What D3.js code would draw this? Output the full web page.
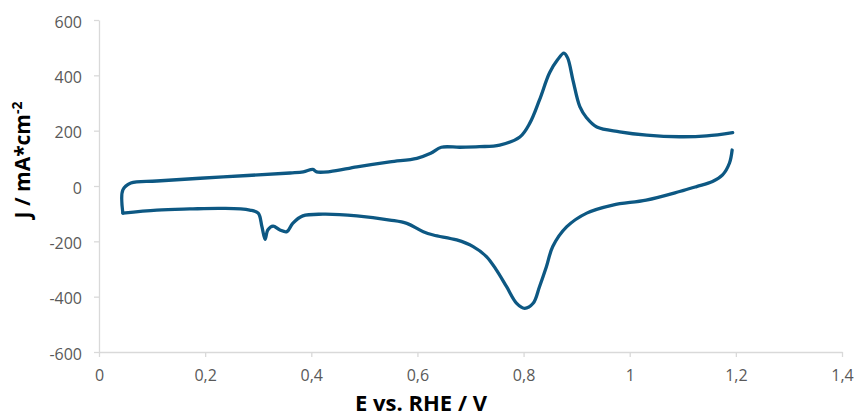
<!DOCTYPE html>
<html>
<head>
<meta charset="utf-8">
<script src="https://cdn.jsdelivr.net/npm/d3@7"></script>
<style>
  html, body { margin: 0; padding: 0; background: #fff; }
  svg { display: block; }
</style>
</head>
<body>
<svg id="chart" width="856" height="418"></svg>
<script>
// Cyclic voltammogram: anodic (forward) scan, 0.045 V -> 1.195 V
const anodicE = [0.045, 0.045, 0.06, 0.109, 0.234, 0.36, 0.385, 0.403, 0.41, 0.435, 0.486, 0.548, 0.599,
  0.625, 0.645, 0.68, 0.717, 0.755, 0.793, 0.812, 0.83, 0.849, 0.864, 0.876, 0.883, 0.893, 0.906, 0.919,
  0.938, 0.981, 1.032, 1.094, 1.145, 1.194];
const anodicJ = [-98, -14, 11, 18, 33, 47, 51, 60, 51, 52, 69, 87, 100,
  118, 140, 140, 142, 148, 177, 228, 311, 409, 456, 480, 463, 383, 287, 246,
  213, 196, 184, 178, 181, 193];

// Cathodic (reverse) scan, 1.193 V -> 0.045 V
const cathodicE = [1.193, 1.188, 1.175, 1.156, 1.126, 1.094, 1.031, 0.968, 0.919, 0.881, 0.855, 0.843, 0.83,
  0.818, 0.802, 0.787, 0.768, 0.749, 0.73, 0.705, 0.674, 0.63, 0.611, 0.58, 0.548, 0.486, 0.422,
  0.384, 0.365, 0.354, 0.341, 0.328, 0.318, 0.313, 0.307, 0.3, 0.284, 0.234, 0.171, 0.109, 0.045];
const cathodicJ = [130, 83, 40, 16, -2, -20, -51, -69, -98, -148, -219, -292, -364,
  -424, -442, -424, -364, -304, -255, -219, -195, -177, -165, -135, -123, -108, -102,
  -108, -135, -165, -159, -145, -159, -193, -147, -98, -87, -81, -83, -87, -98];

// Axis ticks
const xTicks = [0, 0.2, 0.4, 0.6, 0.8, 1, 1.2, 1.4];
const yTicks = [-600, -400, -200, 0, 200, 400, 600];

const svg = d3.select("#chart");
const margin = { left: 99, right: 14, top: 20, bottom: 66 };
const W = 856, H = 418;

const x = d3.scaleLinear().domain([0, 1.4]).range([margin.left, W - margin.right]);
const y = d3.scaleLinear().domain([-600, 600]).range([H - margin.bottom, margin.top]);

const axisColor = "#d9d9d9";
const labelColor = "#595959";
const fmt = d => String(d).replace(".", ",");

// X axis along the bottom
const gx = svg.append("g")
  .attr("transform", `translate(0,${y(-600)})`)
  .call(d3.axisBottom(x).tickValues(xTicks).tickFormat(fmt).tickSizeInner(5).tickSizeOuter(0).tickPadding(13));
// Y axis at E = 0
const gy = svg.append("g")
  .attr("transform", `translate(${x(0)},0)`)
  .call(d3.axisLeft(y).tickValues(yTicks).tickFormat(fmt).tickSizeInner(5).tickSizeOuter(0).tickPadding(12));

[gx, gy].forEach(g => {
  g.select(".domain").attr("stroke", axisColor).attr("stroke-width", 1.3);
  g.selectAll(".tick line").attr("stroke", axisColor).attr("stroke-width", 1.3);
  g.selectAll(".tick text").attr("fill", labelColor)
    .style("font-family", "'Open Sans', sans-serif").style("font-size", "16px");
});
gy.selectAll(".tick text").attr("dy", "0.45em");

// Curve
const line = d3.line()
  .x(d => x(d[0]))
  .y(d => y(d[1]))
  .curve(d3.curveCatmullRom.alpha(0.5));

const anodic = anodicE.map((e, i) => [e, anodicJ[i]]);
const cathodic = cathodicE.map((e, i) => [e, cathodicJ[i]]);

svg.append("g").selectAll("path")
  .data([anodic, cathodic])
  .join("path")
  .attr("d", line)
  .attr("fill", "none")
  .attr("stroke", "#0d5883")
  .attr("stroke-width", 3.3)
  .attr("stroke-linejoin", "round")
  .attr("stroke-linecap", "round");

// Axis titles
svg.append("text")
  .attr("x", 421).attr("y", 411)
  .attr("text-anchor", "middle")
  .style("font-family", "'Open Sans', sans-serif")
  .style("font-weight", "bold").style("font-size", "22px")
  .attr("fill", "#000")
  .text("E vs. RHE / V");

const yt = svg.append("text")
  .attr("transform", "translate(30,160) rotate(-90)")
  .attr("text-anchor", "middle")
  .style("font-family", "'Open Sans', sans-serif")
  .style("font-weight", "bold").style("font-size", "21px")
  .attr("fill", "#000");
yt.append("tspan").text("J / mA*cm");
yt.append("tspan").attr("dy", -8).style("font-size", "14px").text("-2");
</script>
</body>
</html>
